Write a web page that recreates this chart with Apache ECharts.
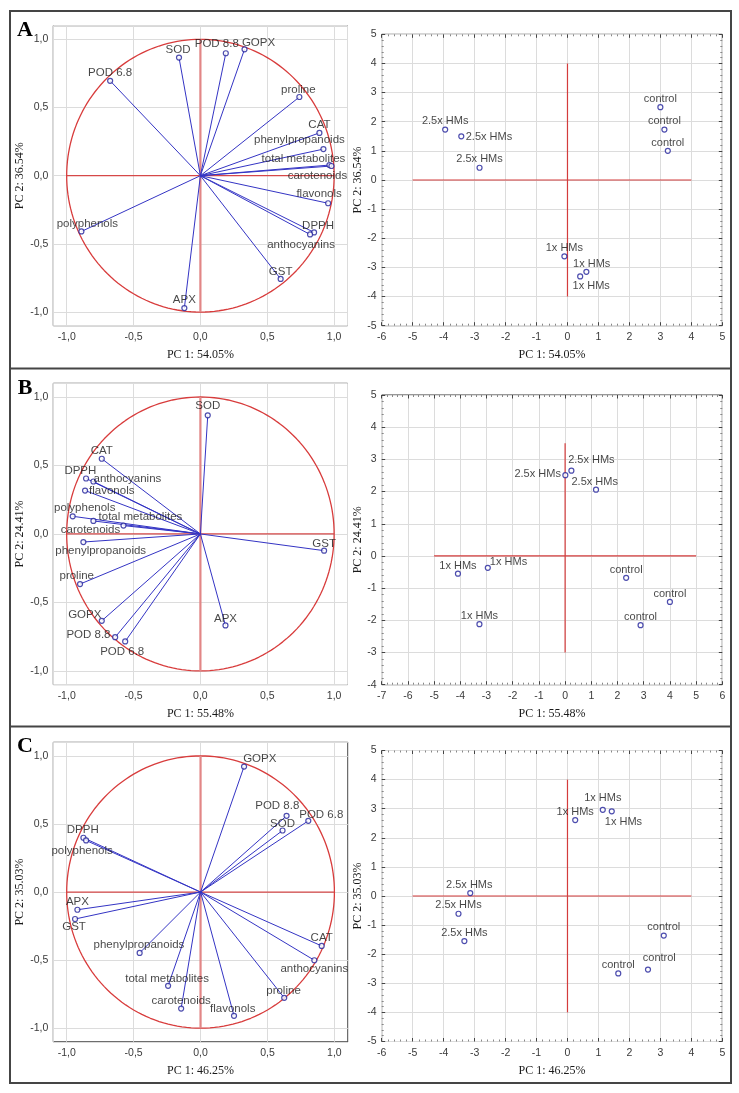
<!DOCTYPE html>
<html><head><meta charset="utf-8">
<script src="https://cdn.jsdelivr.net/npm/echarts@6/dist/echarts.min.js"></script>
<style>html,body{margin:0;padding:0;background:#fff}#c{width:739px;height:1093px}</style>
</head><body><div id="c"></div>
<script>
// ---------------- DATA ----------------
const panelLetters = ['A', 'B', 'C'];
const pc1Titles = ['PC 1: 54.05%', 'PC 1: 55.48%', 'PC 1: 46.25%'];
const pc2Titles = ['PC 2: 36.54%', 'PC 2: 24.41%', 'PC 2: 35.03%'];

// Loadings (correlation circle)
const loadNamesA = ['SOD','POD 8.8','GOPX','POD 6.8','proline','CAT','phenylpropanoids','total metabolites','carotenoids','flavonols','DPPH','anthocyanins','GST','APX','polyphenols'];
const loadPC1A = [-0.16, 0.19, 0.33, -0.675, 0.74, 0.89, 0.92, 0.965, 0.98, 0.955, 0.85, 0.82, 0.60, -0.12, -0.89];
const loadPC2A = [0.866, 0.898, 0.927, 0.696, 0.577, 0.314, 0.195, 0.078, 0.071, -0.202, -0.416, -0.431, -0.757, -0.971, -0.409];

const loadNamesB = ['SOD','CAT','DPPH','anthocyanins','flavonols','polyphenols','total metabolites','carotenoids','phenylpropanoids','proline','GOPX','POD 8.8','POD 6.8','APX','GST'];
const loadPC1B = [0.055, -0.7375, -0.855, -0.80, -0.8625, -0.955, -0.80, -0.575, -0.875, -0.90, -0.7375, -0.6375, -0.5625, 0.1875, 0.925];
const loadPC2B = [0.866, 0.549, 0.405, 0.383, 0.317, 0.129, 0.095, 0.061, -0.059, -0.366, -0.634, -0.754, -0.785, -0.668, -0.122];

const loadNamesC = ['GOPX','POD 8.8','POD 6.8','SOD','DPPH','polyphenols','APX','GST','phenylpropanoids','total metabolites','carotenoids','flavonols','proline','CAT','anthocyanins'];
const loadPC1C = [0.325, 0.6425, 0.805, 0.6125, -0.875, -0.855, -0.92, -0.9375, -0.455, -0.2425, -0.145, 0.25, 0.625, 0.905, 0.85];
const loadPC2C = [0.922, 0.56, 0.523, 0.452, 0.399, 0.379, -0.13, -0.198, -0.447, -0.689, -0.856, -0.909, -0.777, -0.396, -0.501];

// Scores
const scoreNames = ['control','control','control','2.5x HMs','2.5x HMs','2.5x HMs','1x HMs','1x HMs','1x HMs'];
const scorePC1A = [3.00, 3.13, 3.24, -3.95, -3.43, -2.84, -0.10, 0.61, 0.41];
const scorePC2A = [2.50, 1.73, 1.00, 1.73, 1.50, 0.42, -2.62, -3.15, -3.31];
const scorePC1B = [2.33, 4.00, 2.88, 0.01, 0.24, 1.18, -4.09, -2.95, -3.27];
const scorePC2B = [-0.68, -1.43, -2.15, 2.51, 2.65, 2.06, -0.55, -0.37, -2.12];
const scorePC1C = [3.11, 2.60, 1.64, -3.14, -3.52, -3.33, 0.25, 1.14, 1.43];
const scorePC2C = [-1.36, -2.53, -2.66, 0.10, -0.61, -1.55, 2.61, 2.96, 2.91];

// Axis ranges / reference lines
const loadRange = [-1.1, 1.1];
const scoreXRange = [[-6, 5], [-7, 6], [-6, 5]];
const scoreYRange = [[-5, 5], [-4, 5], [-5, 5]];
const crossH = [[-5, 4], [-5, 5], [-5, 4]];
const crossV = [[-4, 4], [-3, 3.5], [-4, 4]];

// ---------------- STYLE (label offsets in px, layout) ----------------
const loadLabelOffsets = [
  [[-1,-8],[-9,-9],[14,-6],[0,-8],[-1,-7.5],[0,-8],[-24,-9],[-26,-6],[-14,10],[-9,-9],[4,-7],[-9,10.5],[0,-7.5],[0,-8],[6,-7.5]],
  [[0,-10],[0,-7.7],[-5.7,-7.3],[34,-3],[26.7,0],[12,-8.3],[47,-4],[-33,4],[17.3,8.3],[-3.3,-8.7],[-17,-6],[-26.7,-2.3],[-3,10],[0,-6.3],[0,-7]],
  [[15.7,-8],[-9.3,-10],[13,-6],[0,-6.3],[-0.7,-7.7],[-4,10],[0,-8.3],[-1,8.3],[-0.7,-7.7],[-1,-7.3],[0,-7.3],[-1.3,-7.3],[-0.7,-7.3],[0,-8],[0,8.7]]
];
const scoreLabelOffsets = [
  [[0,-7.7],[0,-8.7],[0,-8.3],[0,-8.7],[27.7,0.7],[0,-8.3],[0,-8.3],[5.3,-7.7],[11,9.3]],
  [[0,-8.3],[0,-8],[0,-8],[-27.7,-0.7],[20,-10.3],[-1.3,-7.7],[0,-7.3],[20.7,-6],[0,-8.3]],
  [[0,-8.3],[11.3,-11.3],[0,-8.3],[-1,-8.3],[0,-8.3],[0,-8.3],[0,-8.3],[0,-11.7],[11.7,10.7]]
];
const leftGrids = [
  {left: 53.3, top: 25.7, width: 294.2, height: 300},
  {left: 53.3, top: 383.3, width: 294.2, height: 301.3},
  {left: 53.3, top: 742.3, width: 294.5, height: 299.5}
];
const rightGrids = [
  {left: 381.7, top: 34.3, width: 340.6, height: 291.4},
  {left: 381.7, top: 395, width: 340.6, height: 289.7},
  {left: 381.7, top: 750.5, width: 340.6, height: 291}
];

const loadSets = [
  [loadNamesA, loadPC1A, loadPC2A],
  [loadNamesB, loadPC1B, loadPC2B],
  [loadNamesC, loadPC1C, loadPC2C]
];
const scoreSets = [
  [scorePC1A, scorePC2A],
  [scorePC1B, scorePC2B],
  [scorePC1C, scorePC2C]
];

const SANS = 'Liberation Sans';
const SERIF = 'Liberation Serif';
const tickFont = {fontFamily: SANS, fontSize: 10.5, color: '#3a3a3a'};
const titleFont = {fontFamily: SERIF, fontSize: 12, color: '#1a1a1a'};
const gridLine = {show: true, lineStyle: {color: '#dcdcdc', width: 1}};

function commaFmt(v) {
  const r = Math.round(v * 2) / 2;
  if (Math.abs(v - r) > 1e-6) return '';
  return (r === 0 ? 0 : r).toFixed(1).replace('.', ',');
}

// unit correlation circle (reference geometry)
const unitCircle = [];
for (let a = 0; a <= 360; a += 2) {
  unitCircle.push([Math.cos(a * Math.PI / 180), Math.sin(a * Math.PI / 180)]);
}

const grids = [], xAxes = [], yAxes = [], series = [];

for (let p = 0; p < 3; p++) {
  // ---- left: loading plot ----
  const gi = grids.length;
  grids.push(Object.assign({show: true, borderColor: '#303030', borderWidth: 1, backgroundColor: 'transparent', containLabel: false, outerBoundsMode: 'none'}, leftGrids[p]));
  const xi = xAxes.length, yi = yAxes.length;
  xAxes.push({
    gridIndex: gi, type: 'value', min: loadRange[0], max: loadRange[1], minInterval: 0.5, maxInterval: 0.5,
    axisLine: {show: false, onZero: false}, axisTick: {show: false}, splitLine: gridLine,
    axisLabel: Object.assign({formatter: commaFmt, margin: 6}, tickFont),
    name: pc1Titles[p], nameLocation: 'middle', nameGap: 23, nameTextStyle: titleFont
  });
  yAxes.push({
    gridIndex: gi, type: 'value', min: loadRange[0], max: loadRange[1], minInterval: 0.5, maxInterval: 0.5,
    axisLine: {show: false, onZero: false}, axisTick: {show: false}, splitLine: gridLine,
    axisLabel: Object.assign({formatter: commaFmt, margin: 5}, tickFont),
    name: pc2Titles[p], nameLocation: 'middle', nameGap: 25, nameRotate: 90, nameTextStyle: titleFont
  });
  series.push({
    type: 'line', xAxisIndex: xi, yAxisIndex: yi, data: unitCircle, symbol: 'none', silent: true, z: 2,
    lineStyle: {color: '#d83c3c', width: 1.3}
  });
  series.push({
    type: 'line', xAxisIndex: xi, yAxisIndex: yi, data: [[-1, 0], [1, 0]], symbol: 'none', silent: true, z: 2,
    lineStyle: {color: '#d64848', width: 1.2}
  });
  series.push({
    type: 'line', xAxisIndex: xi, yAxisIndex: yi, data: [[0, -1], [0, 1]], symbol: 'none', silent: true, z: 2,
    lineStyle: {color: '#e28686', width: 2.2}
  });
  const [ln, lx, ly] = loadSets[p];
  series.push({
    type: 'lines', coordinateSystem: 'cartesian2d', xAxisIndex: xi, yAxisIndex: yi, silent: true, z: 3,
    lineStyle: {color: '#3434c4', width: 1, opacity: 1, curveness: 0},
    data: ln.map((n, i) => ({coords: [[0, 0], [lx[i], ly[i]]]}))
  });
  series.push({
    type: 'scatter', xAxisIndex: xi, yAxisIndex: yi, z: 4, symbol: 'circle', symbolSize: 5,
    itemStyle: {color: '#ffffff', borderColor: '#20209a', borderWidth: 1.2},
    label: {show: true, position: 'inside', formatter: '{b}', color: '#161616', fontFamily: SANS, fontSize: 11.5, textBorderWidth: 0},
    data: ln.map((n, i) => ({name: n, value: [lx[i], ly[i]], label: {offset: loadLabelOffsets[p][i]}}))
  });

  // ---- right: score plot ----
  const gj = grids.length;
  grids.push(Object.assign({show: true, borderColor: '#303030', borderWidth: 1, backgroundColor: 'transparent', containLabel: false, outerBoundsMode: 'none'}, rightGrids[p]));
  const xr = scoreXRange[p], yr = scoreYRange[p];
  const tickIn = {show: true, inside: true, length: 3.5, lineStyle: {color: '#444', width: 1}};
  const minorIn = {show: true, splitNumber: 5, length: 2, lineStyle: {color: '#888', width: 1}};
  const sxi = xAxes.length;
  xAxes.push({
    gridIndex: gj, type: 'value', position: 'bottom', min: xr[0], max: xr[1], interval: 1,
    axisLine: {show: false, onZero: false}, axisTick: tickIn, minorTick: minorIn, splitLine: gridLine,
    axisLabel: Object.assign({margin: 6}, tickFont),
    name: pc1Titles[p], nameLocation: 'middle', nameGap: 23, nameTextStyle: titleFont
  });
  xAxes.push({
    gridIndex: gj, type: 'value', position: 'top', min: xr[0], max: xr[1], interval: 1,
    axisLine: {show: false, onZero: false}, axisTick: tickIn, minorTick: minorIn, splitLine: {show: false},
    axisLabel: {show: false}
  });
  const syi = yAxes.length;
  yAxes.push({
    gridIndex: gj, type: 'value', position: 'left', min: yr[0], max: yr[1], interval: 1,
    axisLine: {show: false, onZero: false}, axisTick: tickIn, minorTick: minorIn, splitLine: gridLine,
    axisLabel: Object.assign({margin: 5}, tickFont),
    name: pc2Titles[p], nameLocation: 'middle', nameGap: 15, nameRotate: 90, nameTextStyle: titleFont
  });
  yAxes.push({
    gridIndex: gj, type: 'value', position: 'right', min: yr[0], max: yr[1], interval: 1,
    axisLine: {show: false, onZero: false}, axisTick: tickIn, minorTick: minorIn, splitLine: {show: false},
    axisLabel: {show: false}
  });
  series.push({
    type: 'line', xAxisIndex: sxi, yAxisIndex: syi, data: [[crossH[p][0], 0], [crossH[p][1], 0]], symbol: 'none', silent: true, z: 2,
    lineStyle: {color: '#d43c3c', width: 1.2}
  });
  series.push({
    type: 'line', xAxisIndex: sxi, yAxisIndex: syi, data: [[0, crossV[p][0]], [0, crossV[p][1]]], symbol: 'none', silent: true, z: 2,
    lineStyle: {color: '#d43c3c', width: 1.2}
  });
  const [sx, sy] = scoreSets[p];
  series.push({
    type: 'scatter', xAxisIndex: sxi, yAxisIndex: syi, z: 4, symbol: 'circle', symbolSize: 5,
    itemStyle: {color: '#ffffff', borderColor: '#20209a', borderWidth: 1.2},
    label: {show: true, position: 'inside', formatter: '{b}', color: '#161616', fontFamily: SANS, fontSize: 11, textBorderWidth: 0},
    data: scoreNames.map((n, i) => ({name: n, value: [sx[i], sy[i]], label: {offset: scoreLabelOffsets[p][i]}}))
  });
}

const graphics = [
  {type: 'rect', shape: {x: 10, y: 11, width: 721, height: 1072}, style: {fill: 'none', stroke: '#454545', lineWidth: 2}, z: 100},
  {type: 'line', shape: {x1: 10, y1: 368.5, x2: 731, y2: 368.5}, style: {stroke: '#454545', lineWidth: 2}, z: 100},
  {type: 'line', shape: {x1: 10, y1: 726.5, x2: 731, y2: 726.5}, style: {stroke: '#454545', lineWidth: 2}, z: 100}
];
const letterY = [30, 388, 746];
panelLetters.forEach((L, i) => {
  graphics.push({type: 'text', x: 25, y: letterY[i], z: 100,
    style: {text: L, font: 'bold 22px "Liberation Serif"', fill: '#000', align: 'center', verticalAlign: 'middle'}});
});

const chart = echarts.init(document.getElementById('c'), null, {renderer: 'canvas'});
chart.setOption({
  animation: false,
  backgroundColor: '#ffffff',
  grid: grids,
  xAxis: xAxes,
  yAxis: yAxes,
  series: series,
  graphic: graphics
});
</script>
</body></html>
